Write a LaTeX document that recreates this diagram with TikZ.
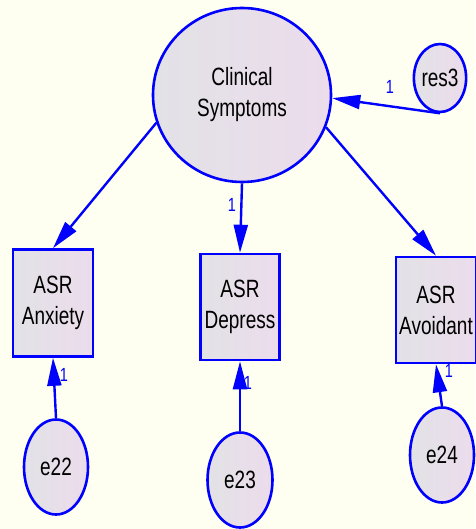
\documentclass[tikz,border=0pt]{standalone}
\usepackage{fontspec}
\setmainfont{Liberation Sans}[FakeStretch=0.76]
\usetikzlibrary{shapes.geometric,arrows.meta}
\definecolor{bg}{RGB}{254,255,240}
\definecolor{edge}{RGB}{0,0,255}
\definecolor{fillL}{RGB}{226,226,230}
\definecolor{fillR}{RGB}{236,220,236}
\begin{document}
\begin{tikzpicture}[x=1pt,y=-1pt,
  shape common/.style={draw=edge,line width=2.6pt,inner sep=0pt,
    left color=fillL,right color=fillR,align=center,
    font=\fontsize{25}{31}\selectfont},
  latent/.style={shape common,ellipse},
  observed/.style={shape common,rectangle},
  path/.style={draw=edge,line width=2.4pt,-{Triangle[length=28pt,width=14pt]}},
  weight/.style={text=edge,font=\fontsize{19}{19}\selectfont,inner sep=0pt}]
  % canvas
  \fill[bg] (0,0) rectangle (475,529);
  \useasboundingbox (0,0) rectangle (475,529);

  % latent factor and its residual
  \node[latent,minimum width=178pt,minimum height=174pt] (cs) at (242,95) {Clinical\\Symptoms};
  \node[latent,minimum width=44pt,minimum height=68pt] (res) at (440,78) {res3};

  % indicators
  \node[observed,minimum width=80pt,minimum height=107pt] (anx) at (53,303) {ASR\\Anxiety};
  \node[observed,minimum width=79pt,minimum height=106pt] (dep) at (240,307) {ASR\\Depress};
  \node[observed,minimum width=80pt,minimum height=106pt] (avo) at (436,310) {ASR\\Avoidant};

  % measurement errors
  \node[latent,minimum width=64pt,minimum height=95pt] (e1) at (56,467) {e22};
  \node[latent,minimum width=65pt,minimum height=95pt] (e2) at (240,480) {e23};
  \node[latent,minimum width=64pt,minimum height=95pt] (e3) at (442,455) {e24};

  % factor loadings
  \draw[path] (cs.198) -- (anx.north);
  \draw[path] (cs.south) -- (dep.north);
  \draw[path] (cs.-21) -- (avo.north);

  % residual and error paths
  \draw[path] (res.south) -- (cs.-2);
  \draw[path] (e1.north) -- (anx.south);
  \draw[path] (e2.north) -- (dep.south);
  \draw[path] (e3.north) -- (avo.south);

  % fixed weights
  \node[weight] (w0) at (390,87) {1};
  \node[weight] (w1) at (232,205) {1};
  \node[weight] (w2) at (64,375) {1};
  \node[weight] (w3) at (248,383) {1};
  \node[weight] (w4) at (449,371) {1};
\end{tikzpicture}
\end{document}
